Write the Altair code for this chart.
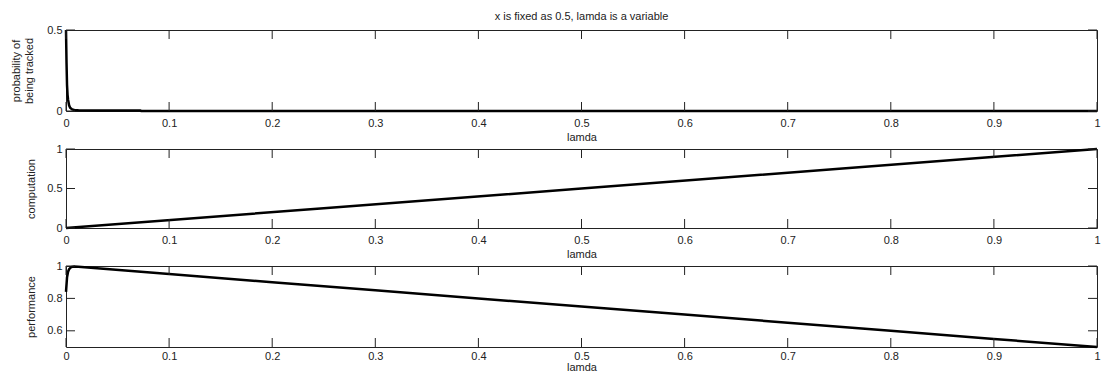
import altair as alt
import pandas as pd

# ---- data ----
x_ticks = [0, 0.1, 0.2, 0.3, 0.4, 0.5, 0.6, 0.7, 0.8, 0.9, 1.0]

lamda_prob = [0, 0.0005, 0.001, 0.0015, 0.002, 0.003, 0.004, 0.006, 0.008, 0.012, 0.03, 0.072, 0.073, 1.0]
prob = [0.5, 0.3, 0.16, 0.1, 0.07, 0.035, 0.02, 0.01, 0.006, 0.004, 0.003, 0.003, 0.0, 0.0]
prob_yticks = [0, 0.5]

lamda_comp = [0, 0.25, 0.5, 0.75, 1.0]
comp = [0, 0.25, 0.5, 0.75, 1.0]
comp_yticks = [0, 0.5, 1]

lamda_perf = [0, 0.001, 0.002, 0.003, 0.005, 0.008, 0.012, 0.1, 0.2, 0.3, 0.4, 0.5, 0.6, 0.7, 0.8, 0.9, 1.0]
perf = [0.84, 0.93, 0.965, 0.98, 0.993, 0.997, 0.996, 0.95, 0.9, 0.85, 0.8, 0.75, 0.7, 0.65, 0.6, 0.55, 0.5]
perf_yticks = [0.6, 0.8, 1]

FONT = "Liberation Sans"
INK = "#222222"
W = 1031
TL = 9  # inward tick length


def panel(lx, ly, ydomain, yticks, ytitle, height, title_pad, lab_pad, tit_pad, title=None):
    df = pd.DataFrame({"lamda": lx, "v": ly})
    xs = alt.Scale(domain=[0, 1], nice=False, zero=False)
    ys = alt.Scale(domain=ydomain, nice=False, zero=False)
    xaxis = alt.Axis(values=x_ticks, format=".1~f", title="lamda",
                     labelPadding=lab_pad, titlePadding=tit_pad, labelFlush=False)
    yaxis = alt.Axis(values=yticks, format="~g", title=ytitle,
                     labelPadding=4, titlePadding=title_pad, labelFlush=False)
    line = alt.Chart(df).mark_line(color="black", strokeWidth=2.5).encode(
        x=alt.X("lamda:Q", scale=xs, axis=xaxis),
        y=alt.Y("v:Q", scale=ys, axis=yaxis),
    )
    xt = pd.DataFrame({"lamda": x_ticks})
    yt = pd.DataFrame({"v": yticks})
    rule = dict(color=INK, strokeWidth=1)
    top_t = alt.Chart(xt).mark_rule(**rule).encode(
        x=alt.X("lamda:Q", scale=xs, axis=xaxis), y=alt.value(0), y2=alt.value(TL))
    bot_t = alt.Chart(xt).mark_rule(**rule).encode(
        x=alt.X("lamda:Q", scale=xs, axis=xaxis), y=alt.value(height - TL), y2=alt.value(height))
    left_t = alt.Chart(yt).mark_rule(**rule).encode(
        y=alt.Y("v:Q", scale=ys, axis=yaxis), x=alt.value(0), x2=alt.value(TL))
    right_t = alt.Chart(yt).mark_rule(**rule).encode(
        y=alt.Y("v:Q", scale=ys, axis=yaxis), x=alt.value(W - TL), x2=alt.value(W))
    props = dict(width=W, height=height)
    if title is not None:
        props["title"] = alt.TitleParams(title, font=FONT, fontSize=11, fontWeight="normal",
                                         color=INK, anchor="middle", offset=2)
    return alt.layer(line, top_t, bot_t, left_t, right_t).properties(**props)


p1 = panel(lamda_prob, prob, [0, 0.5], prob_yticks, ["probability of", "being tracked"], 81, 12, 6, 3,
           title="x is fixed as 0.5, lamda is a variable")
p2 = panel(lamda_comp, comp, [0, 1], comp_yticks, "computation", 79, 10, 6, 3)
p3 = panel(lamda_perf, perf, [0.5, 1], perf_yticks, "performance", 81, 10, 3, 0)

chart = alt.vconcat(p1, p2, p3, spacing=38, bounds="flush").properties(
    padding={"left": 2, "top": 2, "right": 0, "bottom": 0}
).configure_axis(
    labelFont=FONT, labelFontSize=11, labelColor=INK,
    titleFont=FONT, titleFontSize=11, titleFontWeight="normal", titleColor=INK,
    domain=False, ticks=False, grid=False,
).configure_view(stroke=INK, strokeWidth=1)

chart.save("out.html", embed_options={"renderer": "svg", "actions": False})
